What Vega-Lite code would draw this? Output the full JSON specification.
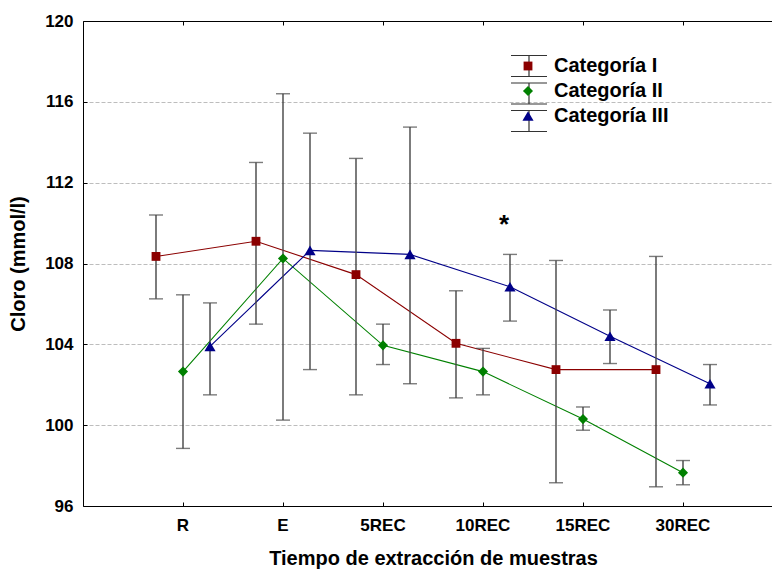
{
  "$schema": "https://vega.github.io/schema/vega-lite/v6.json",
  "width": 689,
  "height": 485,
  "autosize": {"type": "none"},
  "padding": {"left": 83, "top": 21, "right": 0, "bottom": 69},
  "background": "white",
  "config": {
    "font": "Liberation Sans",
    "view": {"stroke": null},
    "axis": {
      "labelFont": "Liberation Sans",
      "labelFontWeight": "bold",
      "labelFontSize": 17,
      "labelColor": "black",
      "titleFont": "Liberation Sans",
      "titleFontWeight": "bold",
      "titleFontSize": 20,
      "titleColor": "black",
      "domainColor": "black",
      "domainWidth": 1,
      "tickColor": "black",
      "tickSize": -4
    }
  },
  "data": {
    "values": [
      {"serie": "Categoría I", "tiempo": "R", "media": 108.35, "inf": 106.25, "sup": 110.4},
      {"serie": "Categoría I", "tiempo": "E", "media": 109.1, "inf": 105.0, "sup": 113.0},
      {"serie": "Categoría I", "tiempo": "5REC", "media": 107.45, "inf": 101.5, "sup": 113.2},
      {"serie": "Categoría I", "tiempo": "10REC", "media": 104.05, "inf": 101.35, "sup": 106.65},
      {"serie": "Categoría I", "tiempo": "15REC", "media": 102.75, "inf": 97.15, "sup": 108.15},
      {"serie": "Categoría I", "tiempo": "30REC", "media": 102.75, "inf": 96.95, "sup": 108.35},
      {"serie": "Categoría II", "tiempo": "R", "media": 102.65, "inf": 98.85, "sup": 106.45},
      {"serie": "Categoría II", "tiempo": "E", "media": 108.25, "inf": 100.25, "sup": 116.4},
      {"serie": "Categoría II", "tiempo": "5REC", "media": 103.95, "inf": 103.0, "sup": 105.0},
      {"serie": "Categoría II", "tiempo": "10REC", "media": 102.65, "inf": 101.5, "sup": 103.8},
      {"serie": "Categoría II", "tiempo": "15REC", "media": 100.3, "inf": 99.75, "sup": 100.9},
      {"serie": "Categoría II", "tiempo": "30REC", "media": 97.65, "inf": 97.05, "sup": 98.25},
      {"serie": "Categoría III", "tiempo": "R", "media": 103.9, "inf": 101.5, "sup": 106.05},
      {"serie": "Categoría III", "tiempo": "E", "media": 108.65, "inf": 102.75, "sup": 114.45},
      {"serie": "Categoría III", "tiempo": "5REC", "media": 108.45, "inf": 102.05, "sup": 114.75},
      {"serie": "Categoría III", "tiempo": "10REC", "media": 106.85, "inf": 105.15, "sup": 108.45, "nota": "*"},
      {"serie": "Categoría III", "tiempo": "15REC", "media": 104.4, "inf": 103.05, "sup": 105.7},
      {"serie": "Categoría III", "tiempo": "30REC", "media": 102.05, "inf": 101.0, "sup": 103.0}
    ]
  },
  "resolve": {
    "axis": {"x": "independent", "y": "independent"},
    "legend": {"color": "independent", "shape": "independent", "opacity": "independent", "size": "independent"}
  },
  "layer": [
    {
      "mark": {"type": "line", "strokeWidth": 1.1},
      "encoding": {
        "x": {
          "field": "tiempo", "type": "nominal",
          "sort": ["R", "E", "5REC", "10REC", "15REC", "30REC"],
          "scale": {"type": "band", "range": [0, 700], "paddingInner": 0, "paddingOuter": 0.5},
          "axis": {"orient": "bottom", "title": "Tiempo de extracción de muestras", "labelAngle": 0, "bandPosition": 0.5, "labelPadding": 15, "titlePadding": 15, "grid": false}
        },
        "xOffset": {"field": "serie", "type": "nominal", "scale": {"type": "point", "range": [23, 77], "padding": 0}},
        "y": {
          "field": "media", "type": "quantitative",
          "scale": {"domain": [96, 120], "nice": false, "zero": false},
          "axis": {"title": "Cloro (mmol/l)", "values": [96, 100, 104, 108, 112, 116, 120], "labelPadding": 14, "titlePadding": 16, "grid": true, "gridColor": "#bdbdbd", "gridDash": [4, 2], "gridWidth": 1}
        },
        "color": {"field": "serie", "type": "nominal", "scale": {"domain": ["Categoría I", "Categoría II", "Categoría III"], "range": ["#8b0000", "#008000", "#000088"]}, "legend": null}
      }
    },
    {
      "mark": {"type": "rule", "color": "#444444", "strokeWidth": 1.4},
      "encoding": {
        "x": {"field": "tiempo", "type": "nominal", "sort": ["R", "E", "5REC", "10REC", "15REC", "30REC"], "axis": {"orient": "top", "labels": false, "title": null, "bandPosition": 0.5, "grid": false}},
        "xOffset": {"field": "serie", "type": "nominal"},
        "y": {"field": "inf", "type": "quantitative", "axis": null},
        "y2": {"field": "sup"},
        "opacity": {
          "field": "serie", "type": "ordinal",
          "scale": {"domain": ["Categoría I", "Categoría II", "Categoría III"], "range": [1, 1]},
          "legend": {
            "orient": "none", "legendX": 435, "legendY": 34, "title": null, "padding": 0,
            "symbolSize": 400, "rowPadding": 1.5, "labelOffset": 16,
            "labelFont": "Liberation Sans", "labelFontSize": 20, "labelFontWeight": "bold", "labelColor": "transparent",
            "symbolType": "M0,-1.05V1.05M-1.8,-1.05H1.8M-1.8,1.05H1.8",
            "symbolStrokeColor": "#333333",
            "symbolFillColor": "transparent",
            "symbolStrokeWidth": 1.2,
            "symbolOpacity": 1,
            "zindex": 0
          }
        }
      }
    },
    {
      "mark": {"type": "tick", "orient": "horizontal", "color": "#444444", "size": 14, "thickness": 1.4},
      "encoding": {
        "x": {"field": "tiempo", "type": "nominal", "sort": ["R", "E", "5REC", "10REC", "15REC", "30REC"], "axis": null},
        "xOffset": {"field": "serie", "type": "nominal"},
        "y": {"field": "inf", "type": "quantitative", "axis": null}
      }
    },
    {
      "mark": {"type": "tick", "orient": "horizontal", "color": "#444444", "size": 14, "thickness": 1.4},
      "encoding": {
        "x": {"field": "tiempo", "type": "nominal", "sort": ["R", "E", "5REC", "10REC", "15REC", "30REC"], "axis": null},
        "xOffset": {"field": "serie", "type": "nominal"},
        "y": {"field": "sup", "type": "quantitative", "axis": null}
      }
    },
    {
      "mark": {"type": "point", "filled": true, "opacity": 1},
      "encoding": {
        "x": {"field": "tiempo", "type": "nominal", "sort": ["R", "E", "5REC", "10REC", "15REC", "30REC"], "axis": null},
        "xOffset": {"field": "serie", "type": "nominal"},
        "y": {"field": "media", "type": "quantitative", "axis": null},
        "shape": {"field": "serie", "type": "nominal", "scale": {"domain": ["Categoría I", "Categoría II", "Categoría III"], "range": ["square", "diamond", "triangle-up"]}, "legend": null},
        "size": {"field": "serie", "type": "ordinal", "scale": {"domain": ["Categoría I", "Categoría II", "Categoría III"], "range": [78, 125, 100]}, "legend": null},
        "color": {
          "field": "serie", "type": "nominal",
          "legend": {
            "orient": "none", "legendX": 435, "legendY": 35, "title": null, "padding": 0,
            "symbolSize": 400, "rowPadding": 5, "labelOffset": 16,
            "labelFont": "Liberation Sans", "labelFontSize": 20, "labelFontWeight": "bold", "labelColor": "black",
            "zindex": 1,
            "encode": {"symbols": {
              "shape": {"value": {"expr": "datum.value === 'Categoría I' ? 'M0,-1.05M0,1.05M-1.8,0H1.8M-0.75,-0.45H0.15V0.45H-0.75Z' : datum.value === 'Categoría II' ? 'M0,-1.05M0,1.05M-1.8,0H1.8M-0.3,-0.5L0.2,0L-0.3,0.5L-0.8,0Z' : 'M0,-1.05M0,1.05M-1.8,0H1.8M-0.3,-0.5L0.15,0.35H-0.75Z'"}},
              "stroke": {"value": {"expr": "scale('color', datum.value)"}},
              "fill": {"value": {"expr": "scale('color', datum.value)"}},
              "strokeWidth": {"value": 1.2},
              "opacity": {"value": 1}
            }}
          }
        }
      }
    },
    {
      "transform": [{"filter": "datum.nota"}],
      "mark": {"type": "text", "fontSize": 26, "fontWeight": "bold", "baseline": "alphabetic", "dx": -6, "dy": -21, "color": "black"},
      "encoding": {
        "x": {"field": "tiempo", "type": "nominal", "sort": ["R", "E", "5REC", "10REC", "15REC", "30REC"], "axis": null},
        "xOffset": {"field": "serie", "type": "nominal"},
        "y": {"field": "sup", "type": "quantitative", "axis": null},
        "text": {"field": "nota"}
      }
    }
  ]
}
